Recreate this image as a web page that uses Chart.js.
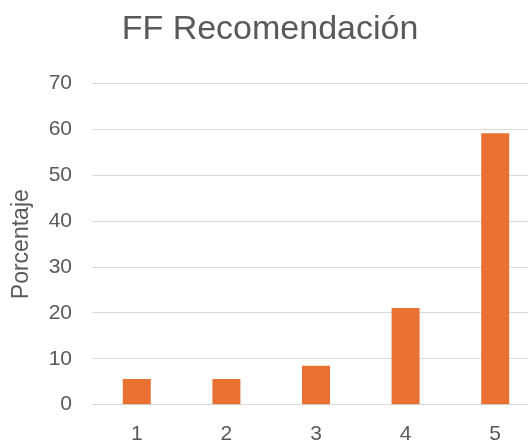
<!DOCTYPE html>
<html>
<head>
<meta charset="utf-8">
<script src="https://cdn.jsdelivr.net/npm/chart.js@4"></script>
<style>
html,body{margin:0;padding:0;background:#fff;overflow:hidden;width:528px;height:441px;}
canvas{display:block;}
</style>
</head>
<body>
<canvas id="c" width="540" height="441"></canvas>
<script>
const categories = ["1", "2", "3", "4", "5"];
const values = [5.6, 5.6, 8.5, 21.1, 59.2];
const yTicks = [0, 10, 20, 30, 40, 50, 60, 70];
const chartTitle = "FF Recomendación";
const yTitle = "Porcentaje";

const FONT = "'Liberation Sans', Arial, sans-serif";
const TXT = "#595959";

new Chart(document.getElementById('c'), {
  type: 'bar',
  data: {
    labels: categories,
    datasets: [{
      data: values,
      backgroundColor: '#E97132',
      borderWidth: 0,
      categoryPercentage: 1,
      barPercentage: 0.3125
    }]
  },
  options: {
    responsive: false,
    animation: false,
    devicePixelRatio: 1,
    layout: { padding: { left: 0, right: 0, top: 0, bottom: 0 } },
    plugins: {
      legend: { display: false },
      tooltip: { enabled: false },
      title: {
        display: true,
        text: chartTitle,
        color: TXT,
        font: { family: FONT, size: 34, weight: 'normal' },
        padding: { top: 9.3, bottom: 33.6 }
      }
    },
    scales: {
      x: {
        grid: { display: false, drawTicks: false },
        border: { display: false },
        ticks: { color: TXT, font: { family: FONT, size: 21 }, padding: 17, maxRotation: 0 },
        afterFit: s => { s.height = 36.3; }
      },
      y: {
        min: 0, max: 70,
        afterBuildTicks: s => { s.ticks = yTicks.map(v => ({ value: v })); },
        grid: { color: '#D9D9D9', lineWidth: 1, drawTicks: false },
        border: { display: false },
        ticks: { color: TXT, font: { family: FONT, size: 21 }, padding: 20 },
        title: { display: true, text: yTitle, color: TXT, font: { family: FONT, size: 23 }, padding: { top: 8, bottom: 0 } },
        afterFit: s => { s.width = 92; }
      }
    }
  }
});
</script>
</body>
</html>
